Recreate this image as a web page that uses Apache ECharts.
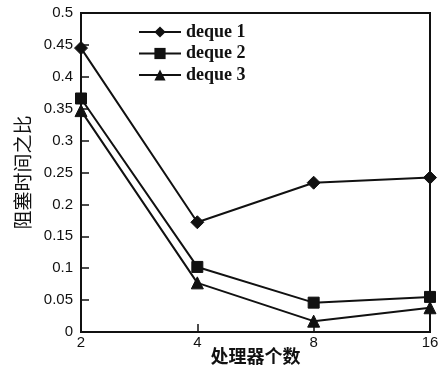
<!DOCTYPE html>
<html><head><meta charset="utf-8">
<script src="https://cdn.jsdelivr.net/npm/echarts@6/dist/echarts.min.js"></script>
<style>html,body{margin:0;padding:0;background:#fff}#c{width:439px;height:367px}</style>
</head><body><div id="c"></div>
<script>
const categories = ['2', '4', '8', '16'];
const seriesNames = ['deque 1', 'deque 2', 'deque 3'];
const deque1 = [0.445, 0.172, 0.234, 0.242];
const deque2 = [0.366, 0.102, 0.046, 0.055];
const deque3 = [0.347, 0.077, 0.017, 0.038];
const symbols = ['diamond', 'rect', 'triangle'];
const symbolSizes = [13, 11, 12];
const allData = [deque1, deque2, deque3];

const chart = echarts.init(document.getElementById('c'), null, {renderer: 'canvas'});
chart.setOption({
  animation: false,
  grid: {left: 81, right: 9, top: 13, bottom: 35, show: true, borderColor: '#111', borderWidth: 2,
    backgroundColor: 'transparent', containLabel: false, outerBoundsMode: 'none'},
  legend: {
    left: 138, top: 23, padding: 0, orient: 'vertical', itemGap: 3.5, itemWidth: 42, itemHeight: 14,
    textStyle: {fontFamily: 'Liberation Serif', fontWeight: 'bold', fontSize: 18, color: '#111'},
    data: seriesNames
  },
  xAxis: {
    type: 'category', data: categories, boundaryGap: false,
    name: '处理器个数', nameLocation: 'middle', nameGap: 15, nameMoveOverlap: false,
    nameTextStyle: {fontFamily: 'Noto Sans CJK SC', fontSize: 18, fontWeight: 'bold', color: '#111'},
    axisLine: {lineStyle: {color: '#111', width: 2}},
    axisTick: {inside: true, length: 8, lineStyle: {color: '#111', width: 1.5}},
    axisLabel: {fontFamily: 'Liberation Sans', fontSize: 15, color: '#111', margin: 3}
  },
  yAxis: {
    type: 'value', min: 0, max: 0.5, interval: 0.05,
    name: '阻塞时间之比', nameLocation: 'middle', nameGap: 49, nameRotate: 90, nameMoveOverlap: false,
    nameTextStyle: {fontFamily: 'Noto Sans CJK SC', fontSize: 19, color: '#111'},
    axisLine: {show: true, lineStyle: {color: '#111', width: 2}},
    axisTick: {show: true, inside: true, length: 8, lineStyle: {color: '#111', width: 1.5}},
    splitLine: {show: false},
    axisLabel: {fontFamily: 'Liberation Sans', fontSize: 15, color: '#111', margin: 8,
      formatter: v => String(Math.round(v * 100) / 100)}
  },
  series: seriesNames.map((n, i) => ({
    name: n, type: 'line', data: allData[i], symbol: symbols[i], symbolSize: symbolSizes[i],
    showAllSymbol: true,
    lineStyle: {color: '#111', width: 2}, itemStyle: {color: '#111', borderColor: '#111'}
  }))
});
</script></body></html>
